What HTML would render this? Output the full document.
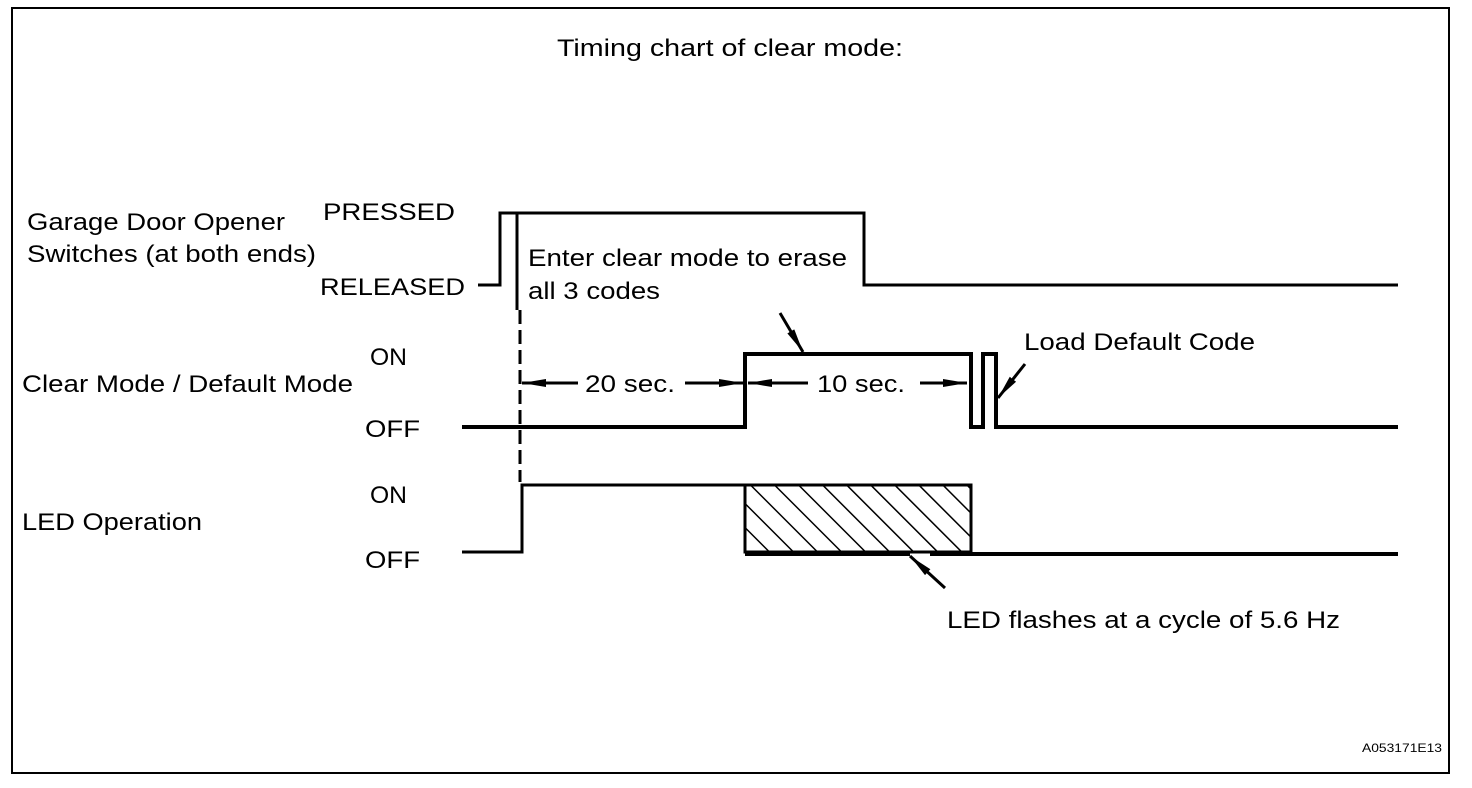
<!DOCTYPE html>
<html><head><meta charset="utf-8"><style>html,body{margin:0;padding:0;background:#fff}svg{display:block}</style></head>
<body>
<svg width="1472" height="788" viewBox="0 0 1472 788" xmlns="http://www.w3.org/2000/svg" font-family="Liberation Sans, Arial, sans-serif" fill="#000">
<defs>
<pattern id="h" patternUnits="userSpaceOnUse" width="17" height="17" patternTransform="rotate(-45)">
<rect width="17" height="17" fill="#fff"/><line x1="0" y1="0" x2="0" y2="17" stroke="#000" stroke-width="3"/></pattern>
<marker id="a" markerWidth="24" markerHeight="10" refX="24" refY="5" orient="auto" markerUnits="userSpaceOnUse"><path d="M0,1 L24,5 L0,9 Z"/></marker>
</defs>
<rect x="12" y="8" width="1437" height="765" fill="none" stroke="#000" stroke-width="2"/>
<g font-size="24" lengthAdjust="spacingAndGlyphs">
<text x="557" y="56" textLength="346" lengthAdjust="spacingAndGlyphs">Timing chart of clear mode:</text>
<text x="27" y="230" textLength="258" lengthAdjust="spacingAndGlyphs">Garage Door Opener</text>
<text x="27" y="262" textLength="289" lengthAdjust="spacingAndGlyphs">Switches (at both ends)</text>
<text x="323" y="220" textLength="132" lengthAdjust="spacingAndGlyphs">PRESSED</text>
<text x="320" y="295" textLength="145" lengthAdjust="spacingAndGlyphs">RELEASED</text>
<text x="22" y="392" textLength="331" lengthAdjust="spacingAndGlyphs">Clear Mode / Default Mode</text>
<text x="370" y="365" textLength="37" lengthAdjust="spacingAndGlyphs">ON</text>
<text x="365" y="437" textLength="55" lengthAdjust="spacingAndGlyphs">OFF</text>
<text x="370" y="503" textLength="37" lengthAdjust="spacingAndGlyphs">ON</text>
<text x="22" y="530" textLength="180" lengthAdjust="spacingAndGlyphs">LED Operation</text>
<text x="365" y="568" textLength="55" lengthAdjust="spacingAndGlyphs">OFF</text>
<text x="528" y="266" textLength="319" lengthAdjust="spacingAndGlyphs">Enter clear mode to erase</text>
<text x="528" y="299" textLength="132" lengthAdjust="spacingAndGlyphs">all 3 codes</text>
<text x="585" y="392" textLength="90" lengthAdjust="spacingAndGlyphs">20 sec.</text>
<text x="817" y="392" textLength="88" lengthAdjust="spacingAndGlyphs">10 sec.</text>
<text x="1024" y="350" textLength="231" lengthAdjust="spacingAndGlyphs">Load Default Code</text>
<text x="947" y="628" textLength="393" lengthAdjust="spacingAndGlyphs">LED flashes at a cycle of 5.6 Hz</text>
</g>
<text x="1362" y="752" font-size="12" textLength="80" lengthAdjust="spacingAndGlyphs">A053171E13</text>
<g fill="none" stroke="#000" stroke-width="4">
<polyline points="478,285 500,285 500,213 864,213 864,285 1398,285" stroke-width="3"/>
<line x1="517" y1="213" x2="517" y2="310" stroke-width="3"/>
<line x1="520" y1="310" x2="520" y2="482" stroke-width="3" stroke-dasharray="14,6"/>
<polyline points="462,427 745,427 745,354 971,354 971,427 983,427 983,354 996,354 996,427 1398,427"/>
<polyline points="462,552 522,552 522,485 971,485" stroke-width="3"/>
<rect x="745" y="485" width="226" height="67" fill="url(#h)" stroke-width="3"/>
<polyline points="745,554 910,554" />
<polyline points="930,554 1398,554"/>
</g>
<g stroke="#000" stroke-width="3" fill="none" marker-end="url(#a)">
<line x1="578" y1="383" x2="522" y2="383"/>
<line x1="685" y1="383" x2="743" y2="383"/>
<line x1="808" y1="383" x2="748" y2="383"/>
<line x1="920" y1="383" x2="967" y2="383"/>
<line x1="780" y1="313" x2="803" y2="352"/>
<line x1="1025" y1="364" x2="998" y2="398"/>
<line x1="945" y1="588" x2="910" y2="556"/>
</g>
</svg>
</body></html>
